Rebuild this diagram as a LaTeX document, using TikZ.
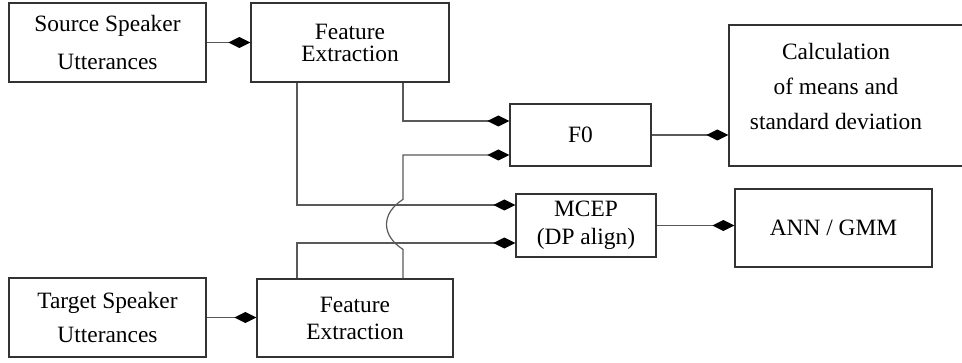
\documentclass[tikz,border=0pt]{standalone}
\usepackage{fontspec}
\setmainfont{Liberation Serif}
\usetikzlibrary{positioning,arrows.meta}

\begin{document}
\begin{tikzpicture}[x=0.5pt, y=-0.5pt, font=\fontsize{11.7}{14}\selectfont,
  blk/.style={draw=black!80, line width=0.6pt, align=center, inner sep=0pt},
  conn/.style={draw=black!65, line width=0.6pt, -{Diamond[length=11pt,width=5.5pt,black]}}]
\useasboundingbox (0,0) rectangle (962,363);
% input side
\node[blk, minimum width=98.5pt, minimum height=39.5pt] (src) at (107.5,42.5) {Source Speaker\\[5pt]Utterances};
\node[blk, minimum width=99pt, minimum height=39.5pt] (fea1) at (350,42.5) {Feature\\[-3pt]Extraction};
\node[blk, minimum width=98.5pt, minimum height=39.5pt] (tgt) at (107.5,317.5) {Target Speaker\\[3pt]Utterances};
\node[blk, minimum width=98pt, minimum height=39pt] (fea2) at (355,318) {Feature\\[-0.5pt]Extraction};
% feature blocks
\node[blk, minimum width=70.5pt, minimum height=31pt] (f0) at (580.5,135) {F0};
\node[blk, minimum width=70pt, minimum height=31.5pt] (mcep) at (586,225.5) {MCEP\\(DP align)};
% output side
\node[blk, minimum width=122pt, minimum height=70.5pt] (calc) at (851,95.5) {};
\node[align=center, inner sep=0pt] (calctxt) at (836,86) {Calculation\\[3.5pt]of means and\\[3.5pt]standard deviation};
\node[blk, minimum width=98.5pt, minimum height=39pt] (ann) at (833.5,228) {ANN / GMM};
% tap positions
\coordinate (xl) at (297,0);
\coordinate (xr) at (403,0);
\draw[conn] (src) -- (fea1);
\draw[conn] (tgt.east) -- (fea2.west |- tgt.east);
\draw[conn] (fea1.south -| xr) |- ([yshift=7pt]f0.west);
\draw[conn] (fea1.south -| xl) |- ([yshift=10.25pt]mcep.west);
\draw[conn] (fea2.north -| xl) |- ([yshift=-8.75pt]mcep.west);
\draw[conn] (fea2.north -| xr) -- ++(0,-29) .. controls +(-22,-14) and +(-22,14) .. ++(0,-50) |- ([yshift=-10pt]f0.west);
\draw[conn] (f0.east) -- (calc.west |- f0.east);
\draw[conn] (mcep.east) -- (ann.west |- mcep.east);
\end{tikzpicture}
\end{document}
